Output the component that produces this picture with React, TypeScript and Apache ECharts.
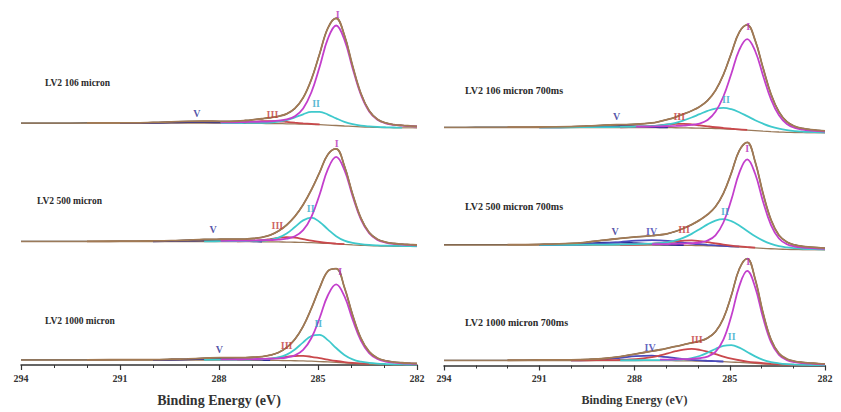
import React, { useEffect, useRef } from "react";
import * as echarts from "echarts";

// Binding energy sample points (eV), shared by every panel
const energy = [294, 293, 292, 291, 290, 289.45, 288.95, 288.45, 287.95, 287.45, 287.2, 286.95, 286.7, 286.45, 286.2, 285.95, 285.7, 285.45, 285.2, 284.95, 284.7, 284.45, 284.2, 283.95, 283.7, 283.45, 283.2, 282.95, 282.7, 282.45, 282.2, 282];
const tickValues = [282, 285, 288, 291, 294];

// Shirley-type backgrounds
const bgL1 = [4.8, 4.8, 4.8, 4.8, 4.8, 4.8, 4.8, 4.8, 4.8, 4.75, 4.7, 4.66, 4.56, 4.46, 4.37, 4.22, 4.08, 3.89, 3.65, 3.31, 2.93, 2.5, 2.02, 1.58, 1.2, 0.86, 0.58, 0.38, 0.24, 0.14, 0.05, 0];
const bgStd = [5, 5, 5, 5, 5, 5, 5, 5, 5, 4.95, 4.9, 4.85, 4.75, 4.65, 4.55, 4.4, 4.25, 4.05, 3.8, 3.45, 3.05, 2.6, 2.1, 1.65, 1.25, 0.9, 0.6, 0.4, 0.25, 0.15, 0.05, 0];
const bgR1 = [5.5, 5.5, 5.5, 5.5, 5.5, 5.5, 5.5, 5.5, 5.5, 5.45, 5.39, 5.34, 5.23, 5.12, 5.0, 4.84, 4.68, 4.46, 4.18, 3.8, 3.36, 2.86, 2.31, 1.82, 1.38, 0.99, 0.66, 0.44, 0.28, 0.17, 0.06, 0];

// LV2 106 micron
const iL1 = [0.1, 0.1, 0.2, 0.2, 0.3, 0.4, 0.5, 0.6, 0.8, 1.0, 1.2, 1.5, 1.8, 2.2, 2.9, 4.3, 7.7, 15.7, 32.1, 58.0, 86.4, 100, 86.4, 58.0, 32.1, 15.7, 7.7, 4.3, 2.9, 2.2, 1.8, 1.5];
const iiL1 = [0, 0, 0, 0, 0.1, 0.1, 0.1, 0.15, 0.2, 0.26, 0.34, 0.43, 0.64, 1.05, 1.98, 3.74, 6.5, 9.83, 12.45, 12.74, 10.5, 7.15, 4.2, 2.27, 1.17, 0.7, 0.47, 0.35, 0.28, 0.23, 0.2, 0.18];
const iiiL1 = [0, 0, 0, 0.02, 0.03, 0.04, 0.05, 0.09, 0.19, 0.6, 1.04, 1.6, 2.17, 2.49, 2.35, 1.85, 1.25, 0.75, 0.42, 0.23, 0.14, 0.1, 0.07, 0.06, 0.05, 0.04, 0.03, 0.03, 0.02, 0.02, 0.02, 0.02];
const vL1 = [0.01, 0.01, 0.03, 0.06, 0.32, 0.73, 1.13, 1.13, 0.73, 0.34, 0.22, 0.13, 0.09, 0.06, 0.05, 0.04, 0.03, 0.03, 0.02, 0.02, 0.02, 0.02, 0.02, 0.01, 0.01, 0.01, 0.01, 0.01, 0.01, 0.01, 0.01, 0.01];

// LV2 500 micron
const iL2 = [0.1, 0.1, 0.1, 0.2, 0.3, 0.3, 0.4, 0.5, 0.6, 0.9, 1.0, 1.2, 1.5, 1.8, 2.3, 3.5, 6.0, 12.3, 25.9, 48.6, 74.4, 87, 74.4, 48.6, 25.9, 12.3, 6.0, 3.5, 2.3, 1.8, 1.5, 1.2];
const iiL2 = [0, 0, 0, 0.05, 0.1, 0.15, 0.2, 0.2, 0.3, 0.5, 0.6, 0.8, 1.15, 2.0, 4.3, 8.6, 15.2, 22.1, 25, 21.1, 14.1, 7.75, 3.75, 1.9, 1.1, 0.7, 0.55, 0.45, 0.38, 0.3, 0.25, 0.23];
const iiiL2 = [0, 0, 0.01, 0.02, 0.03, 0.04, 0.06, 0.08, 0.12, 0.23, 0.4, 0.79, 1.56, 2.78, 4.15, 4.97, 4.6, 3.33, 2.0, 1.04, 0.52, 0.28, 0.18, 0.13, 0.1, 0.08, 0.07, 0.06, 0.05, 0.04, 0.04, 0.04];
const vL2 = [0.01, 0.01, 0.02, 0.04, 0.14, 0.37, 0.79, 1.22, 1.22, 0.79, 0.56, 0.37, 0.24, 0.15, 0.1, 0.07, 0.05, 0.04, 0.03, 0.03, 0.02, 0.02, 0.02, 0.02, 0.02, 0.01, 0.01, 0.01, 0.01, 0.01, 0.01, 0.01];

// LV2 1000 micron
const iL3 = [0.1, 0.1, 0.1, 0.2, 0.2, 0.3, 0.3, 0.4, 0.6, 0.8, 0.9, 1.1, 1.3, 1.6, 2.1, 3.1, 5.4, 11.0, 23.2, 43.6, 66.7, 78, 66.7, 43.6, 23.2, 11.0, 5.4, 3.1, 2.1, 1.6, 1.3, 1.1];
const iiL3 = [0, 0, 0, 0.06, 0.1, 0.14, 0.18, 0.23, 0.32, 0.47, 0.57, 0.73, 1.0, 1.6, 2.97, 5.97, 11.3, 18.6, 25.2, 26.7, 21.8, 14.4, 8.0, 4.0, 2.05, 1.2, 0.8, 0.62, 0.5, 0.4, 0.35, 0.3];
const iiiL3 = [0.01, 0.01, 0.02, 0.03, 0.04, 0.05, 0.07, 0.09, 0.13, 0.22, 0.35, 0.58, 1.0, 1.73, 2.7, 3.83, 4.75, 4.98, 4.43, 3.39, 2.3, 1.4, 0.81, 0.47, 0.29, 0.2, 0.15, 0.12, 0.1, 0.09, 0.08, 0.07];
const vL3 = [0.01, 0.01, 0.02, 0.03, 0.1, 0.26, 0.61, 1.08, 1.3, 0.99, 0.74, 0.52, 0.35, 0.22, 0.14, 0.09, 0.06, 0.05, 0.04, 0.03, 0.03, 0.02, 0.02, 0.02, 0.02, 0.02, 0.01, 0.01, 0.01, 0.01, 0.01, 0.01];

// LV2 106 micron 700ms
const iR1 = [0.1, 0.1, 0.2, 0.2, 0.3, 0.4, 0.5, 0.6, 0.8, 1.0, 1.3, 1.5, 1.8, 2.3, 3.1, 4.6, 8.3, 16.7, 32.3, 55.5, 79.7, 91, 79.7, 55.5, 32.3, 16.7, 8.3, 4.6, 3.1, 2.3, 1.8, 1.5];
const iiR1 = [0.08, 0.1, 0.14, 0.18, 0.25, 0.33, 0.42, 0.55, 0.82, 1.5, 2.2, 3.3, 5.0, 7.5, 10.5, 14.0, 17.4, 20.0, 21, 20.0, 17.4, 14.0, 10.5, 7.5, 5.0, 3.3, 2.2, 1.5, 1.07, 0.82, 0.65, 0.57];
const iiiR1 = [0.02, 0.02, 0.03, 0.04, 0.06, 0.08, 0.12, 0.22, 0.57, 1.54, 2.32, 3.16, 3.8, 3.99, 3.59, 2.83, 2.0, 1.29, 0.78, 0.46, 0.28, 0.19, 0.14, 0.11, 0.09, 0.08, 0.07, 0.06, 0.05, 0.05, 0.04, 0.04];
const vR1 = [0.01, 0.02, 0.03, 0.06, 0.3, 0.76, 1.3, 1.48, 1.07, 0.54, 0.35, 0.22, 0.14, 0.09, 0.07, 0.05, 0.04, 0.04, 0.03, 0.03, 0.02, 0.02, 0.02, 0.02, 0.02, 0.02, 0.01, 0.01, 0.01, 0.01, 0.01, 0.01];

// LV2 500 micron 700ms
const iR2 = [0.1, 0.1, 0.1, 0.2, 0.2, 0.3, 0.4, 0.4, 0.6, 0.8, 0.9, 1.1, 1.4, 1.8, 2.2, 3.1, 5.2, 10.6, 23.7, 46.7, 74.1, 88, 74.1, 46.7, 23.7, 10.6, 5.2, 3.1, 2.2, 1.8, 1.4, 1.1];
const iiR2 = [0.1, 0.12, 0.15, 0.2, 0.27, 0.35, 0.45, 0.58, 0.8, 1.4, 2.0, 3.0, 4.9, 7.7, 11.6, 16.4, 21.4, 25.4, 27, 25.4, 21.4, 16.4, 11.6, 7.7, 4.9, 3.0, 2.0, 1.4, 1.0, 0.8, 0.67, 0.6];
const iiiR2 = [0.02, 0.02, 0.03, 0.04, 0.07, 0.09, 0.12, 0.2, 0.43, 1.2, 1.93, 2.9, 3.95, 4.76, 4.98, 4.49, 3.54, 2.5, 1.61, 0.98, 0.58, 0.36, 0.24, 0.18, 0.14, 0.11, 0.1, 0.08, 0.07, 0.06, 0.06, 0.05];
const ivR2 = [0.04, 0.06, 0.09, 0.14, 0.35, 0.76, 1.6, 2.94, 4.4, 4.99, 4.72, 4.15, 3.44, 2.65, 1.94, 1.38, 0.96, 0.65, 0.45, 0.32, 0.24, 0.19, 0.16, 0.13, 0.11, 0.1, 0.09, 0.08, 0.07, 0.06, 0.06, 0.05];
const vR2 = [0.03, 0.04, 0.06, 0.14, 0.7, 1.5, 2.27, 2.45, 1.83, 1.02, 0.7, 0.47, 0.3, 0.2, 0.14, 0.11, 0.09, 0.07, 0.06, 0.05, 0.05, 0.04, 0.04, 0.03, 0.03, 0.03, 0.03, 0.02, 0.02, 0.02, 0.02, 0.02];

// LV2 1000 micron 700ms
const iR3 = [0.1, 0.1, 0.1, 0.2, 0.2, 0.3, 0.3, 0.4, 0.6, 0.7, 0.9, 1.1, 1.3, 1.7, 2.1, 2.9, 4.7, 9.6, 22.0, 46.0, 76.3, 92, 76.3, 46.0, 22.0, 9.6, 4.7, 2.9, 2.1, 1.7, 1.3, 1.1];
const iiR3 = [0, 0, 0, 0.06, 0.1, 0.12, 0.15, 0.2, 0.27, 0.38, 0.48, 0.65, 0.95, 1.56, 2.86, 5.1, 8.5, 12.5, 15.9, 16.9, 14.8, 10.9, 7.05, 4.06, 2.2, 1.27, 0.8, 0.56, 0.44, 0.36, 0.3, 0.26];
const iiiR3 = [0.05, 0.06, 0.08, 0.13, 0.19, 0.25, 0.35, 0.61, 1.34, 3.44, 5.17, 7.3, 9.53, 11.3, 12, 11.3, 9.53, 7.3, 5.17, 3.44, 2.2, 1.34, 0.89, 0.61, 0.46, 0.35, 0.3, 0.25, 0.23, 0.2, 0.17, 0.16];
const ivR3 = [0.03, 0.04, 0.06, 0.1, 0.21, 0.47, 1.2, 2.68, 4.45, 4.89, 4.3, 3.46, 2.5, 1.7, 1.08, 0.69, 0.44, 0.3, 0.21, 0.17, 0.13, 0.11, 0.1, 0.08, 0.07, 0.06, 0.06, 0.05, 0.05, 0.04, 0.04, 0.04];

// Peak labels: [name, binding energy, intensity]
const labelsL1 = [["I", 284.4, 114], ["II", 285.06, 24.7], ["III", 286.38, 14], ["V", 288.67, 15]];
const labelsL2 = [["I", 284.43, 103.2], ["II", 285.22, 38.2], ["III", 286.23, 20.8], ["V", 288.18, 17.2]];
const labelsL3 = [["I", 284.33, 93.3], ["II", 284.99, 41.7], ["III", 285.95, 19.3], ["V", 287.99, 16]];
const labelsR1 = [["I", 284.42, 107], ["II", 285.12, 33.7], ["III", 286.59, 16.3], ["V", 288.56, 16.3]];
const labelsR2 = [["I", 284.45, 101.7], ["II", 285.15, 39], ["III", 286.44, 20.7], ["IV", 287.46, 18.3], ["V", 288.61, 18.3]];
const labelsR3 = [["I", 284.42, 104.3], ["II", 284.94, 29], ["III", 286.04, 25.7], ["IV", 287.51, 18.3]];

const titles = ["LV2 106 micron", "LV2 500 micron", "LV2 1000 micron", "LV2 106 micron 700ms", "LV2 500 micron 700ms", "LV2 1000 micron 700ms"];

const panels = [
  { bg: bgL1, comps: { V: vL1, III: iiiL1, II: iiL1, I: iL1 }, labels: labelsL1 },
  { bg: bgStd, comps: { V: vL2, III: iiiL2, II: iiL2, I: iL2 }, labels: labelsL2 },
  { bg: bgStd, comps: { V: vL3, III: iiiL3, II: iiL3, I: iL3 }, labels: labelsL3 },
  { bg: bgR1, comps: { V: vR1, III: iiiR1, II: iiR1, I: iR1 }, labels: labelsR1 },
  { bg: bgStd, comps: { V: vR2, IV: ivR2, III: iiiR2, II: iiR2, I: iR2 }, labels: labelsR2 },
  { bg: bgStd, comps: { IV: ivR3, III: iiiR3, II: iiR3, I: iR3 }, labels: labelsR3 },
];

const layout = [
  { left: 21, top: 8, width: 396, tx: 45, ty: 83.3, ts: 9.5, axis: false, ns: 14 },
  { left: 21, top: 126.5, width: 396, tx: 37, ty: 200.7, ts: 9.5, axis: false, ns: 14 },
  { left: 21, top: 245, width: 396, tx: 45, ty: 321, ts: 9.5, axis: true, ns: 14 },
  { left: 444, top: 13, width: 381, tx: 465, ty: 90, ts: 10, axis: false, ns: 12 },
  { left: 444, top: 130, width: 381, tx: 465, ty: 206.7, ts: 10, axis: false, ns: 12 },
  { left: 444, top: 245.5, width: 381, tx: 465, ty: 322.7, ts: 10, axis: true, ns: 12 },
];
const PANEL_H = 120;

const FONT = "'Liberation Serif', 'DejaVu Serif', serif";
const lineColors: Record<string, string> = { I: "#c33fcc", II: "#3fc9cc", III: "#c9484c", IV: "#4a4abb", V: "#2c2c94" };
const labelColors: Record<string, string> = { I: "#b52fb8", II: "#2fa9c9", III: "#c23a3a", IV: "#3a3aae", V: "#2a2a92" };
const ENV = "#a27a54";
const BG = "#9a7a5a";
const RAW = "#3a3a3a";

// index range over which a component rises visibly above the background
function visibleRange(arr: number[]) {
  const peak = Math.max(...arr);
  const thr = Math.max(0.25, peak * 0.01);
  let a = -1;
  let b = -1;
  arr.forEach((v, i) => {
    if (v >= thr) {
      if (a < 0) a = i;
      b = i;
    }
  });
  return [Math.max(0, a - 1), Math.min(arr.length - 1, b + 1)];
}

function buildOption() {
  const grid: any[] = [];
  const xAxis: any[] = [];
  const yAxis: any[] = [];
  const series: any[] = [];
  const graphic: any[] = [];

  panels.forEach((p, k) => {
    const L = layout[k];
    grid.push({ left: L.left, top: L.top, width: L.width, height: PANEL_H, containLabel: false, outerBoundsMode: "none" });
    xAxis.push({
      gridIndex: k,
      type: "value",
      min: tickValues[0],
      max: tickValues[tickValues.length - 1],
      interval: tickValues[1] - tickValues[0],
      inverse: true,
      show: L.axis,
      axisLine: { show: true, onZero: false, lineStyle: { color: "#333", width: 1.5 } },
      axisTick: { show: true, inside: false, length: 5, lineStyle: { color: "#333", width: 1.2 } },
      minorTick: { show: true, splitNumber: 3, length: 3, lineStyle: { color: "#333", width: 1 } },
      splitLine: { show: false },
      axisLabel: { fontFamily: FONT, fontWeight: "bold", fontSize: 10, color: "#333", margin: 8 },
      name: L.axis ? "Binding Energy (eV)" : "",
      nameLocation: "middle",
      nameGap: 28,
      nameTextStyle: { fontFamily: FONT, fontWeight: "bold", fontSize: L.ns, color: "#333" },
    });
    yAxis.push({ gridIndex: k, type: "value", min: 0, max: PANEL_H, show: false });

    const compNames = Object.keys(p.comps);
    const env = energy.map((_, i) => {
      let s = p.bg[i];
      compNames.forEach((n) => { s += (p.comps as any)[n][i]; });
      return Math.round(s * 100) / 100;
    });
    const common = { xAxisIndex: k, yAxisIndex: k, showSymbol: false, symbol: "none", smooth: 0.4, silent: true };

    series.push({ ...common, type: "line", name: "Raw data", data: energy.map((e, i) => [e, env[i]]), lineStyle: { color: RAW, width: 1.3 }, z: 1 });
    series.push({ ...common, type: "line", name: "Background", data: energy.map((e, i) => [e, p.bg[i]]), lineStyle: { color: BG, width: 1.3 }, z: 2 });
    compNames.forEach((n) => {
      const arr = (p.comps as any)[n] as number[];
      const [a, b] = visibleRange(arr);
      const data = energy.map((e, i) => [e, Math.round((p.bg[i] + arr[i]) * 100) / 100]).slice(a, b + 1);
      series.push({ ...common, type: "line", name: n, data, lineStyle: { color: lineColors[n], width: 1.8 }, z: 3 });
    });
    series.push({ ...common, type: "line", name: "Envelope", data: energy.map((e, i) => [e, env[i]]).filter((d) => d[0] <= 292), lineStyle: { color: ENV, width: 1.8 }, z: 4 });
    series.push({
      type: "scatter",
      xAxisIndex: k,
      yAxisIndex: k,
      silent: true,
      symbolSize: 1,
      itemStyle: { color: "rgba(0,0,0,0)" },
      z: 5,
      label: { show: true, position: "inside", fontFamily: FONT, fontWeight: "bold", fontSize: 10 },
      data: p.labels.map((l: any) => ({ value: [l[1], l[2]], label: { formatter: l[0], color: labelColors[l[0]] } })),
    });

    graphic.push({
      type: "text",
      x: L.tx,
      y: L.ty,
      silent: true,
      style: { text: titles[k], fill: "#2a2a2a", font: `bold ${L.ts}px ${FONT}`, textAlign: "left", textVerticalAlign: "middle", align: "left", verticalAlign: "middle" },
    });
  });

  return { animation: false, backgroundColor: "#ffffff", grid, xAxis, yAxis, series, graphic };
}

export default function App() {
  const ref = useRef<HTMLDivElement>(null);
  useEffect(() => {
    if (!ref.current) return;
    const chart = echarts.init(ref.current, null, { renderer: "svg" });
    chart.setOption(buildOption() as any);
    return () => chart.dispose();
  }, []);
  return <div ref={ref} style={{ position: "fixed", left: 0, top: 0, width: 841, height: 412, background: "#fff" }} />;
}
